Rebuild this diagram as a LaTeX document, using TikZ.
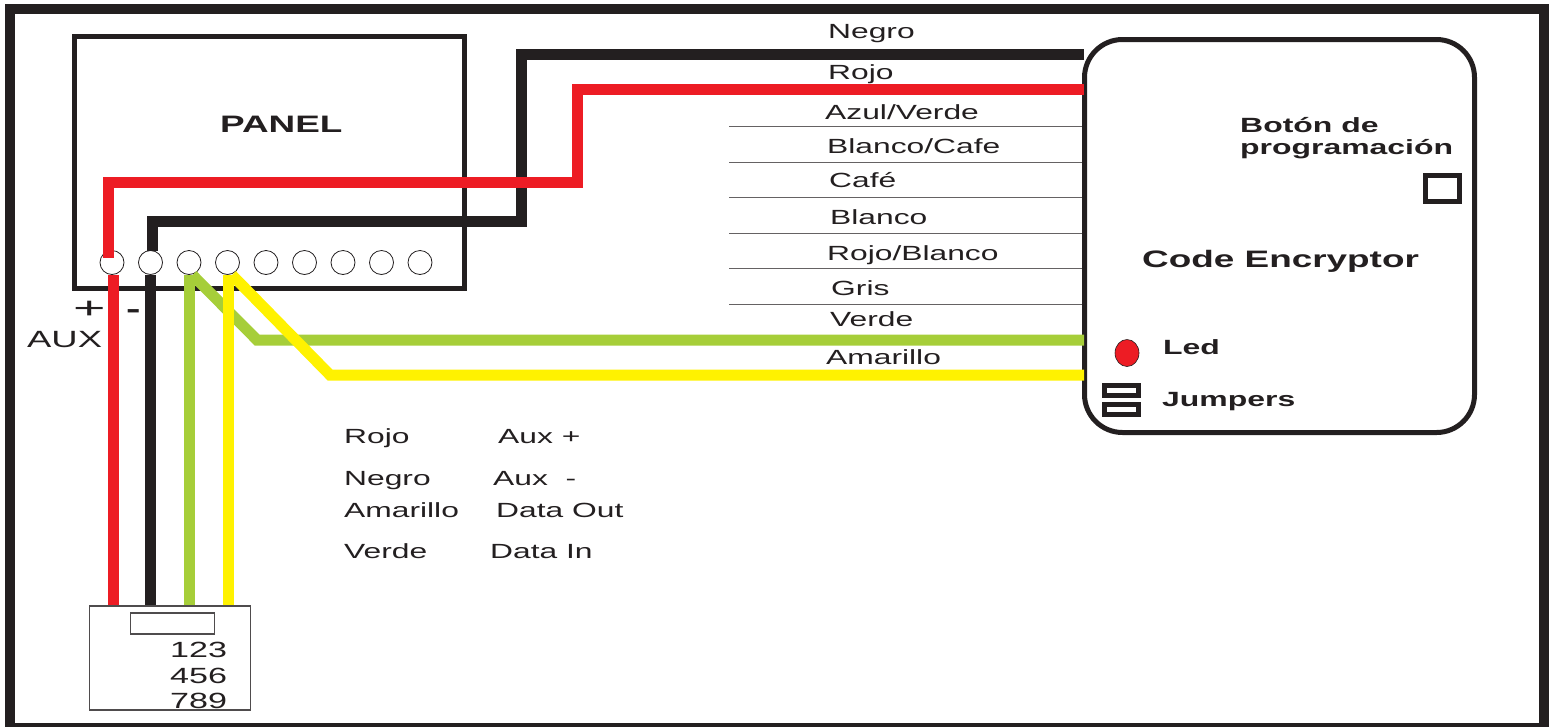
\documentclass[tikz,border=0pt]{standalone}
\usepackage{fontspec}
\setmainfont[FakeStretch=1.55]{Liberation Sans}
\newfontfamily\widefont[FakeStretch=1.85]{Liberation Sans}
\usetikzlibrary{shapes.geometric}
\definecolor{cblack}{HTML}{231F20}
\definecolor{cred}{HTML}{ED1C24}
\definecolor{cgreen}{HTML}{A6CE39}
\definecolor{cyellow}{HTML}{FFF200}
\tikzset{
	wire/.style={line width=11pt},
	hairwire/.style={line width=1pt,draw=cblack!70},
	lbl/.style={anchor=mid west,inner sep=0pt,text=cblack,font=\fontsize{20.5}{20.5}\selectfont},
	blbl/.style={lbl,font=\fontsize{23.8}{23.8}\selectfont\bfseries},
	slbl/.style={lbl,font=\fontsize{20.6}{20.6}\selectfont\bfseries},
	term/.style={circle,draw=cblack,fill=white,line width=.8pt,minimum size=24pt,inner sep=0pt},
	thickbox/.style={draw=cblack,line width=5pt,inner sep=0pt},
	smallbox/.style={draw=cblack,line width=5pt,inner sep=0pt},
	padbox/.style={draw=cblack!80,line width=1.2pt,inner sep=0pt}
}
\begin{document}
\begin{tikzpicture}[x=1pt,y=-1pt,line join=miter]
		\useasboundingbox (0,0) rectangle (1549,726);
		\draw[draw=cblack,line width=10pt] (10,9) rectangle (1544,728);
		\node[thickbox,minimum width=390pt,minimum height=252pt] (panel) at (269,162) {};
		\node[thickbox,rounded corners=38pt,minimum width=390pt,minimum height=393pt] (encryptor) at (1279.5,236) {};
		\node[padbox,minimum width=161pt,minimum height=104pt] (keypad) at (170,658) {};
		\node[padbox,minimum width=84.5pt,minimum height=21pt] (display) at (172.5,623.5) {};
		\node[smallbox,minimum width=34pt,minimum height=26pt] (button) at (1442.5,188.5) {};
		\node[smallbox,minimum width=34pt,minimum height=10pt] (jumpA) at (1121.5,390.5) {};
		\node[smallbox,minimum width=34pt,minimum height=10pt] (jumpB) at (1121.5,409.5) {};
		\node[ellipse,draw=cblack,fill=cred,line width=.6pt,minimum width=24pt,minimum height=27pt,inner sep=0pt] (led) at (1127,353) {};
		\foreach \i/\x in {1/112,2/150.5,3/189,4/227.5,5/266,6/304.5,7/343,8/381.5,9/420}{
			\node[term] (t\i) at (\x,262.5) {};
		};
		\foreach \i/\y in {1/126,2/162,3/197,4/233,5/268,6/304}{
			\coordinate (h\i) at (729,\y);
			\draw[hairwire] (h\i)--(h\i-|encryptor.west);
		};
		\coordinate (enblack) at (1084,54);
		\coordinate (enred) at (1084,89);
		\coordinate (engreen) at (1084,340);
		\coordinate (enyellow) at (1084,375);
		\draw[wire,cblack] (enblack)--(521,54)--(521,221)--(152,221)--(152,250.5);
		\draw[wire,cred] (enred)--(577,89)--(577,182)--(108,182)--(108,258);
		\draw[wire,cblack] (t2.south)--(t2.south|-keypad.north);
		\draw[wire,cred] ([xshift=1pt]t1.south)--([xshift=1pt]t1.south|-keypad.north);
		\draw[wire,cgreen] (engreen)--(257,340)--(192.5,275);
		\draw[wire,cgreen] ([xshift=.5pt]t3.south)--([xshift=.5pt]t3.south|-keypad.north);
		\draw[wire,cyellow] (enyellow)--(330,375)--(232,275);
		\draw[wire,cyellow] ([xshift=1pt]t4.south)--([xshift=1pt]t4.south|-keypad.north);
		\foreach \i/\x/\y/\t in {1/828/36/Negro,2/828/77/Rojo,3/825/117/Azul\slash Verde,4/827/151/Blanco\slash Cafe,5/829/185/Café,6/830/222/Blanco,7/827/258/Rojo\slash Blanco,8/831/293/Gris,9/830/324/Verde,10/826/362/Amarillo}{
			\node[lbl] (col\i) at (\x,\y) {\t};
		};
		\foreach \i/\x/\y/\t in {1/344/441/Rojo,2/498/441/Aux +,3/344/483/Negro,4/493/483/Aux\ \ -,5/344/515/Amarillo,6/496/515/Data Out,7/344/556/Verde,8/490/556/Data In}{
			\node[lbl] (leg\i) at (\x,\y) {\t};
		};
		\foreach \i/\y/\t in {1/655/123,2/681/456,3/706/789}{
			\node[lbl,font=\fontsize{22}{22}\selectfont] (pad\i) at (170,\y) {\t};
		};
		\node[blbl] (paneltxt) at (220,130) {PANEL};
		\node[blbl] (codetxt) at (1142,265) {Code Encryptor};
		\node[slbl] (botontxt) at (1240,130) {Botón de};
		\node[slbl] (progtxt) at (1240,152) {programación};
		\node[slbl] (ledtxt) at (1163,352) {Led};
		\node[slbl] (jumptxt) at (1162,404) {Jumpers};
		\node[lbl,font=\fontsize{23.5}{23.5}\selectfont] (auxtxt) at (27,345) {AUX};
		\node[lbl,font=\fontsize{30}{30}\widefont] (plustxt) at (73,316) {+};
		\node[lbl,font=\fontsize{28}{28}\selectfont\bfseries] (minustxt) at (126,316) {-};
		\end{tikzpicture}
\end{document}
